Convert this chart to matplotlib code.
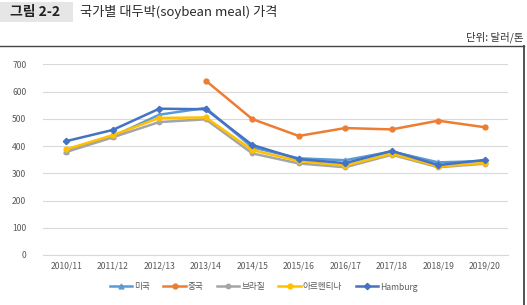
import matplotlib
matplotlib.use("Agg")
import matplotlib.pyplot as plt
from matplotlib.patches import Rectangle
from matplotlib.lines import Line2D
import numpy as np

plt.rcParams['font.family'] = ['Noto Sans CJK KR', 'DejaVu Sans']

years = ["2010/11", "2011/12", "2012/13", "2013/14", "2014/15",
         "2015/16", "2016/17", "2017/18", "2018/19", "2019/20"]
usa = [382, 435, 515, 540, 395, 355, 348, 380, 340, 345]
china = [np.nan, np.nan, np.nan, 640, 499, 437, 466, 461, 493, 469]
brazil = [378, 432, 488, 498, 373, 336, 322, 368, 322, 335]
argentina = [388, 440, 503, 505, 385, 345, 328, 372, 325, 338]
hamburg = [418, 459, 537, 535, 404, 352, 337, 382, 330, 349]

series_names = ["미국", "중국", "브라질", "아르헨티나", "Hamburg"]
yticks = [0, 100, 200, 300, 400, 500, 600, 700]

W, H = 527, 305
fig = plt.figure(figsize=(W / 100, H / 100), dpi=100)

# title box
fig.patches.append(Rectangle((0, 1 - 22 / H), 73 / W, 20 / H, transform=fig.transFigure,
                             facecolor="#E6E6E6", edgecolor="none"))
fig.text(10 / W, 1 - 12 / H, "그림 2-2", fontsize=10, fontweight="bold",
         color="#222222", va="center", ha="left")
fig.text(80 / W, 1 - 12 / H, "국가별 대두박(soybean meal) 가격", fontsize=9.5,
         color="#2a2a2a", va="center", ha="left")
fig.text(523 / W, 1 - 37 / H, "단위: 달러/톤", fontsize=7.5, color="#333333",
         va="center", ha="right")

# chart border
border_col = "#444444"
fig.add_artist(Line2D([0, 523.5 / W], [1 - 45.5 / H, 1 - 45.5 / H], transform=fig.transFigure,
                      color=border_col, lw=1.0))
fig.add_artist(Line2D([523.5 / W, 523.5 / W], [0, 1 - 45.5 / H], transform=fig.transFigure,
                      color=border_col, lw=1.3))

left, right = 43 / W, 508 / W
bottom, top = 1 - 255 / H, 1 - 64.3 / H
ax = fig.add_axes([left, bottom, right - left, top - bottom])

x = np.arange(len(years))
styles = [
    (usa, "#5B9BD5", "^", 3.5),
    (china, "#ED7D31", "o", 3.5),
    (brazil, "#A5A5A5", "o", 3.2),
    (argentina, "#FFC000", "o", 3.5),
    (hamburg, "#4472C4", "D", 3.2),
]
for (vals, col, mk, ms), name in zip(styles, series_names):
    ax.plot(x, vals, color=col, marker=mk, markersize=ms, lw=1.8, label=name)

ax.set_xlim(-0.5, len(years) - 0.5)
ax.set_ylim(0, 700)
ax.set_yticks(yticks)
ax.set_xticks(x)
ax.set_xticklabels(years)
ax.grid(axis="y", color="#D9D9D9", lw=0.8)
ax.set_axisbelow(True)
for s in ["top", "right", "left"]:
    ax.spines[s].set_visible(False)
ax.spines["bottom"].set_color("#D9D9D9")
ax.tick_params(axis="both", length=0, labelsize=6.2, colors="#595959")
ax.tick_params(axis="y", pad=12)
ax.tick_params(axis="x", pad=5)

leg = fig.legend(loc="center", bbox_to_anchor=(0.5, 1 - 287 / H), ncol=5, frameon=False,
                 fontsize=6.2, handlelength=2.6, columnspacing=1.6, handletextpad=0.2,
                 labelcolor="#595959")

fig.savefig("out.png", dpi=100, facecolor="white")
